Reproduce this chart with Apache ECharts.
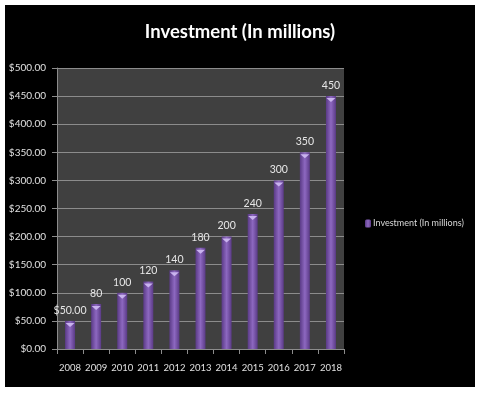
<!DOCTYPE html>
<html><head><meta charset="utf-8">
<script src="https://cdn.jsdelivr.net/npm/echarts@6/dist/echarts.min.js"></script>
<style>html,body{margin:0;padding:0;background:#fff;width:480px;height:395px;overflow:hidden}
#c{position:absolute;left:5px;top:5px;width:470px;height:382px;}</style>
</head><body><div id="c"></div>
<script>
var categories = ['2008','2009','2010','2011','2012','2013','2014','2015','2016','2017','2018'];
var values = [50, 80, 100, 120, 140, 180, 200, 240, 300, 350, 450];
var seriesName = 'Investment (In millions)';
var yTicks = {min: 0, max: 500, interval: 50};

var font = 'Lato, "Liberation Sans", sans-serif';
var chart = echarts.init(document.getElementById('c'));
chart.setOption({
  backgroundColor: '#000',
  animation: false,
  title: {text: 'Investment (In millions)', left: 'center', top: 18, padding: 0,
    textStyle: {color: '#fff', fontSize: 18.5, fontWeight: 'bold', fontFamily: font}},
  legend: {data: [seriesName], left: 355, top: 209, itemWidth: 6, itemHeight: 8, itemGap: 2,
    textStyle: {color: '#d9d9d9', fontSize: 9, fontFamily: font, padding: [0,0,0,-3]}},
  grid: {left: 52, top: 63, right: 131, bottom: 38, show: true, backgroundColor: '#404040', borderWidth: 0},
  xAxis: {type: 'category', data: categories,
    axisLine: {lineStyle: {color: '#8c8c8c', width: 1}},
    axisTick: {show: true, length: 5, lineStyle: {color: '#8c8c8c'}},
    axisLabel: {color: '#e0e0e0', fontSize: 9.5, fontFamily: font, margin: 14, interval: 0}},
  yAxis: {type: 'value', min: yTicks.min, max: yTicks.max, interval: yTicks.interval,
    axisLine: {show: true, lineStyle: {color: '#8c8c8c'}},
    axisTick: {show: true, length: 5, lineStyle: {color: '#8c8c8c'}},
    splitLine: {lineStyle: {color: '#8c8c8c', width: 1}},
    axisLabel: {color: '#e0e0e0', fontSize: 10, fontFamily: font, margin: 11,
      formatter: function(v){return '$' + v.toFixed(2);}}},
  series: [{
    name: seriesName, type: 'bar', data: values, barWidth: 10, barGap: '-100%',
    itemStyle: {color: new echarts.graphic.LinearGradient(0,0,1,0,[
      {offset:0,color:'#5a3a86'},{offset:0.5,color:'#8d68c0'},{offset:1,color:'#5a3a86'}])},
    label: {show: true, position: 'top', distance: 5, color: '#e6e6e6', fontSize: 10.5, fontFamily: font,
      formatter: function(p){return p.dataIndex === 0 ? '$' + p.value.toFixed(2) : String(p.value);}}
  },{
    name: 'cap', type: 'pictorialBar', data: values, barGap: '-100%',
    symbol: 'path://M0,0 L10,0 L5,5 Z', symbolSize: [9, 4], symbolPosition: 'end',
    symbolOffset: [0, '50%'], itemStyle: {color: '#c9b3ee'}, z: 3, silent: true
  }]
});
</script></body></html>
